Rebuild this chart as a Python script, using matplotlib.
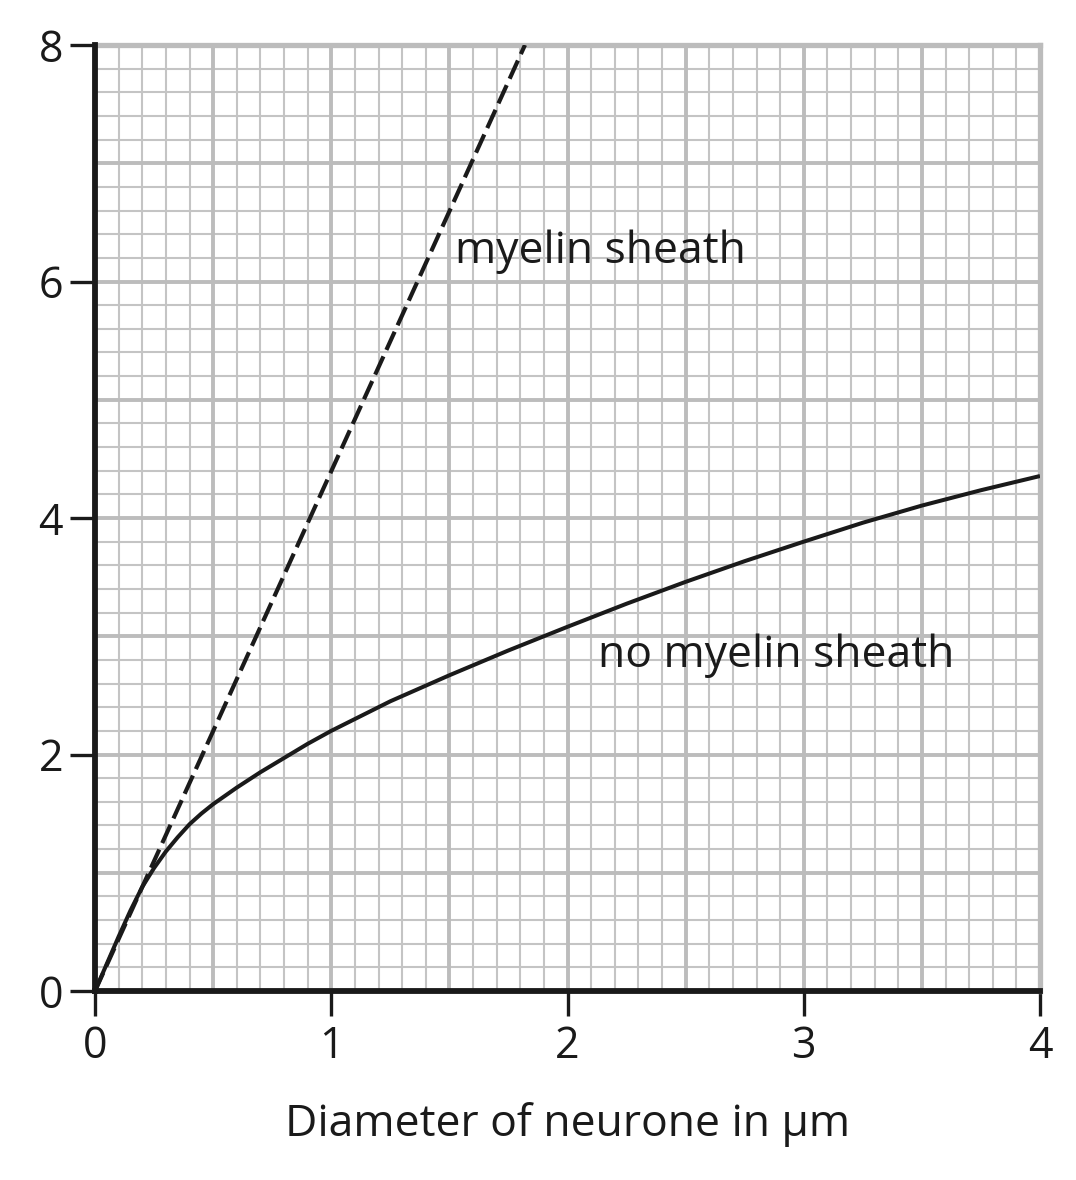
import matplotlib
matplotlib.use("Agg")
import matplotlib.pyplot as plt
import numpy as np

plt.rcParams['font.family'] = ['Open Sans', 'DejaVu Sans']

# Data
no_myelin_x = [0.00, 0.05, 0.10, 0.15, 0.20, 0.25, 0.30, 0.35, 0.40, 0.45, 0.50,
               0.60, 0.70, 0.80, 0.90, 1.00, 1.10, 1.25, 1.50, 1.75, 2.00,
               2.25, 2.50, 2.75, 3.00, 3.25, 3.50, 3.75, 4.00]
no_myelin_y = [0.00, 0.23, 0.46, 0.68, 0.88, 1.04, 1.18, 1.30, 1.41, 1.50, 1.58,
               1.72, 1.85, 1.97, 2.09, 2.20, 2.30, 2.45, 2.67, 2.88, 3.08,
               3.275, 3.46, 3.635, 3.80, 3.96, 4.105, 4.235, 4.355]
myelin_x = [0.0, 1.82]
myelin_y = [0.0, 8.0]

x_ticks = [0, 1, 2, 3, 4]
y_ticks = [0, 2, 4, 6, 8]
x_label = "Diameter of neurone in \u03bcm"
label_myelin = "myelin sheath"
label_no_myelin = "no myelin sheath"

W, H, DPI = 1076, 1180, 100
fig = plt.figure(figsize=(W / DPI, H / DPI), dpi=DPI)
ax = fig.add_axes([95 / W, 1 - 991 / H, (1040 - 95) / W, (991 - 45) / H])
ax.set_xlim(0, 4)
ax.set_ylim(0, 8)

minor_c = '#c4c4c4'
major_c = '#bcbcbc'
for xv in np.arange(0.1, 4.0, 0.1):
    if abs(xv * 2 - round(xv * 2)) > 1e-6:
        ax.axvline(xv, color=minor_c, lw=1.5, zorder=1)
for yv in np.arange(0.2, 8.0, 0.2):
    if abs(yv - round(yv)) > 1e-6:
        ax.axhline(yv, color=minor_c, lw=1.5, zorder=1)
for xv in np.arange(0.5, 4.0, 0.5):
    ax.axvline(xv, color=major_c, lw=2.8, zorder=2)
for yv in np.arange(1, 8, 1):
    ax.axhline(yv, color=major_c, lw=2.8, zorder=2)

ax.plot(no_myelin_x, no_myelin_y, color='#1a1a1a', lw=2.9, zorder=5,
        solid_capstyle='butt', solid_joinstyle='round')
ax.plot(myelin_x, myelin_y, color='#1a1a1a', lw=3.0, zorder=5,
        dashes=(4.8, 1.7))

ax.text(1.525, 6.16, label_myelin, fontsize=32, color='#1a1a1a',
        ha='left', va='baseline', zorder=6)
ax.text(2.13, 2.74, label_no_myelin, fontsize=32, color='#1a1a1a',
        ha='left', va='baseline', zorder=6)

for s in ['left', 'bottom']:
    ax.spines[s].set_color('#1a1a1a')
    ax.spines[s].set_linewidth(4.2)
    ax.spines[s].set_zorder(7)
for s in ['top', 'right']:
    ax.spines[s].set_color(major_c)
    ax.spines[s].set_linewidth(3.8)

ax.set_xticks(x_ticks)
ax.set_yticks(y_ticks)
ax.set_xticklabels([str(v) for v in x_ticks])
ax.set_yticklabels([str(v) for v in y_ticks])
ax.tick_params(axis='both', direction='out', length=18, width=2.4,
               color='#1a1a1a', labelsize=31, labelcolor='#1a1a1a')
ax.tick_params(axis='x', pad=6)
ax.tick_params(axis='y', pad=5)

ax.set_xlabel(x_label, fontsize=32, color='#1a1a1a', labelpad=24)

fig.savefig("out.png", dpi=DPI)
